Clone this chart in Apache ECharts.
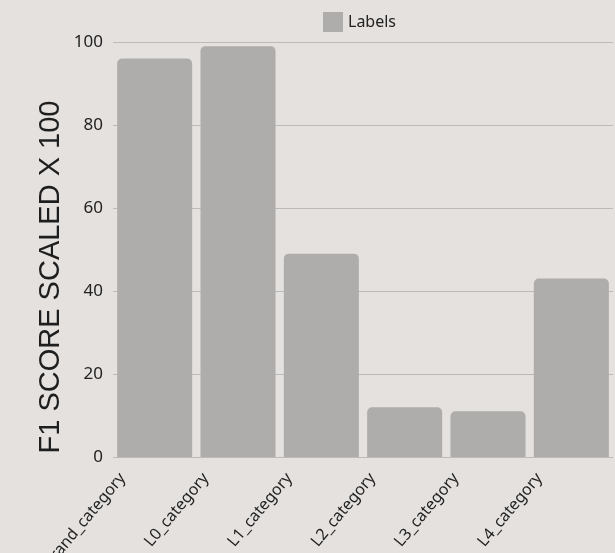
<!DOCTYPE html>
<html>
<head>
<meta charset="utf-8">
<script src="https://cdn.jsdelivr.net/npm/echarts@6/dist/echarts.min.js"></script>
<style>
    html, body { margin: 0; padding: 0; background: #e4e1df; }
    #chart { width: 615px; height: 553px; }
</style>
</head>
<body>
<div id="chart"></div>
<script>
    // data
    const categories = ['brand_category', 'L0_category', 'L1_category', 'L2_category', 'L3_category', 'L4_category'];
    const f1Scores = [96, 99, 49, 12, 11, 43];
    const yTicks = [0, 20, 40, 60, 80, 100];

    const chart = echarts.init(document.getElementById('chart'));
    chart.setOption({
        backgroundColor: '#e4e1df',
        animation: false,
        textStyle: { fontFamily: 'Noto Sans' },
        legend: {
            data: ['Labels'],
            left: 318,
            top: 7,
            itemWidth: 20,
            itemHeight: 20,
            itemGap: 6,
            icon: 'rect',
            textStyle: { fontSize: 16, color: '#222' }
        },
        grid: { left: 113, right: 2, top: 42, bottom: 96, outerBoundsMode: 'none', containLabel: false },
        xAxis: {
            type: 'category',
            data: categories,
            axisLine: { show: false },
            axisTick: { show: false },
            axisLabel: {
                rotate: 50,
                fontSize: 16,
                color: '#222',
                margin: -20,
                padding: [0, 50, 0, 0],
                interval: 0
            }
        },
        yAxis: {
            type: 'value',
            min: yTicks[0],
            max: yTicks[yTicks.length - 1],
            interval: 20,
            axisLabel: { fontSize: 17, color: '#222', margin: 10 },
            splitLine: { lineStyle: { color: '#bdbbb9', width: 1 } }
        },
        graphic: [{
            type: 'text',
            x: 51,
            y: 277,
            rotation: Math.PI / 2,
            style: {
                text: 'F1 SCORE SCALED X 100',
                fontFamily: 'Liberation Sans',
                fontSize: 29,
                fill: '#1e1e1e',
                align: 'center',
                verticalAlign: 'middle'
            }
        }],
        series: [{
            name: 'Labels',
            type: 'bar',
            data: f1Scores,
            barCategoryGap: '10%',
            itemStyle: { color: '#aeadab', borderRadius: [5, 5, 0, 0] }
        }]
    });
</script>
</body>
</html>
